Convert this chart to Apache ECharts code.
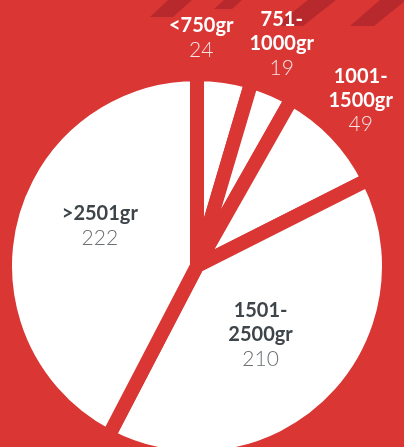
<!DOCTYPE html>
<html>
<head>
<meta charset="utf-8">
<style>html,body{margin:0;padding:0;background:#d93634;}#c{width:404px;height:447px;}</style>
<script src="https://cdn.jsdelivr.net/npm/echarts@6/dist/echarts.min.js"></script>
</head>
<body>
<div id="c"></div>
<script>
const categories = ['<750gr', '751-1000gr', '1001-1500gr', '1501-2500gr', '>2501gr'];
const values = [24, 19, 49, 210, 222];
const outsideLabel = [true, true, true, false, false];

const RED = '#d93634';
const chart = echarts.init(document.getElementById('c'));
const offsets = [[-10, -130], [46, -131], [92, -97], [-6, -1], [-1, -16]];

const data = categories.map((c, i) => ({
  name: c,
  value: values[i],
  label: {
    rich: {
      n: { fontFamily: 'Lato', fontWeight: 'bold', fontSize: 20, lineHeight: 24, color: outsideLabel[i] ? '#ffffff' : '#3e454a' },
      v: { fontFamily: 'Lato', fontWeight: 300, fontSize: 21, lineHeight: 25, color: outsideLabel[i] ? '#f8e2e2' : '#6c7074' }
    }
  }
}));

chart.setOption({
  backgroundColor: RED,
  animation: false,
  graphic: [
    { type: 'polygon', shape: { points: [[168, 0], [192, 0], [173, 17], [150, 17]] }, style: { fill: '#b8292d' }, z: -1 },
    { type: 'polygon', shape: { points: [[224, 0], [242, 0], [232, 9], [214, 9]] }, style: { fill: '#b8292d' }, z: -1 },
    { type: 'polygon', shape: { points: [[308, 0], [336, 0], [303, 26], [275, 26]] }, style: { fill: '#b8292d' }, z: -1 },
    { type: 'polygon', shape: { points: [[380, 0], [406, 0], [374, 26], [350, 26]] }, style: { fill: '#b8292d' }, z: -1 }
  ],
  series: [{
    type: 'pie',
    center: [197, 266],
    radius: [0, 192],
    startAngle: 90,
    clockwise: true,
    avoidLabelOverlap: false,
    itemStyle: { color: '#ffffff', borderColor: RED, borderWidth: 14 },
    emphasis: { disabled: true },
    labelLine: { show: false },
    label: {
      show: true,
      position: 'inside',
      align: 'center',
      formatter: p => '{n|' + p.name.replace('-', '-}\n{n|') + '}\n{v|' + p.value + '}'
    },
    labelLayout: p => ({ dx: offsets[p.dataIndex][0], dy: offsets[p.dataIndex][1] }),
    data: data
  }]
});
</script>
</body>
</html>
